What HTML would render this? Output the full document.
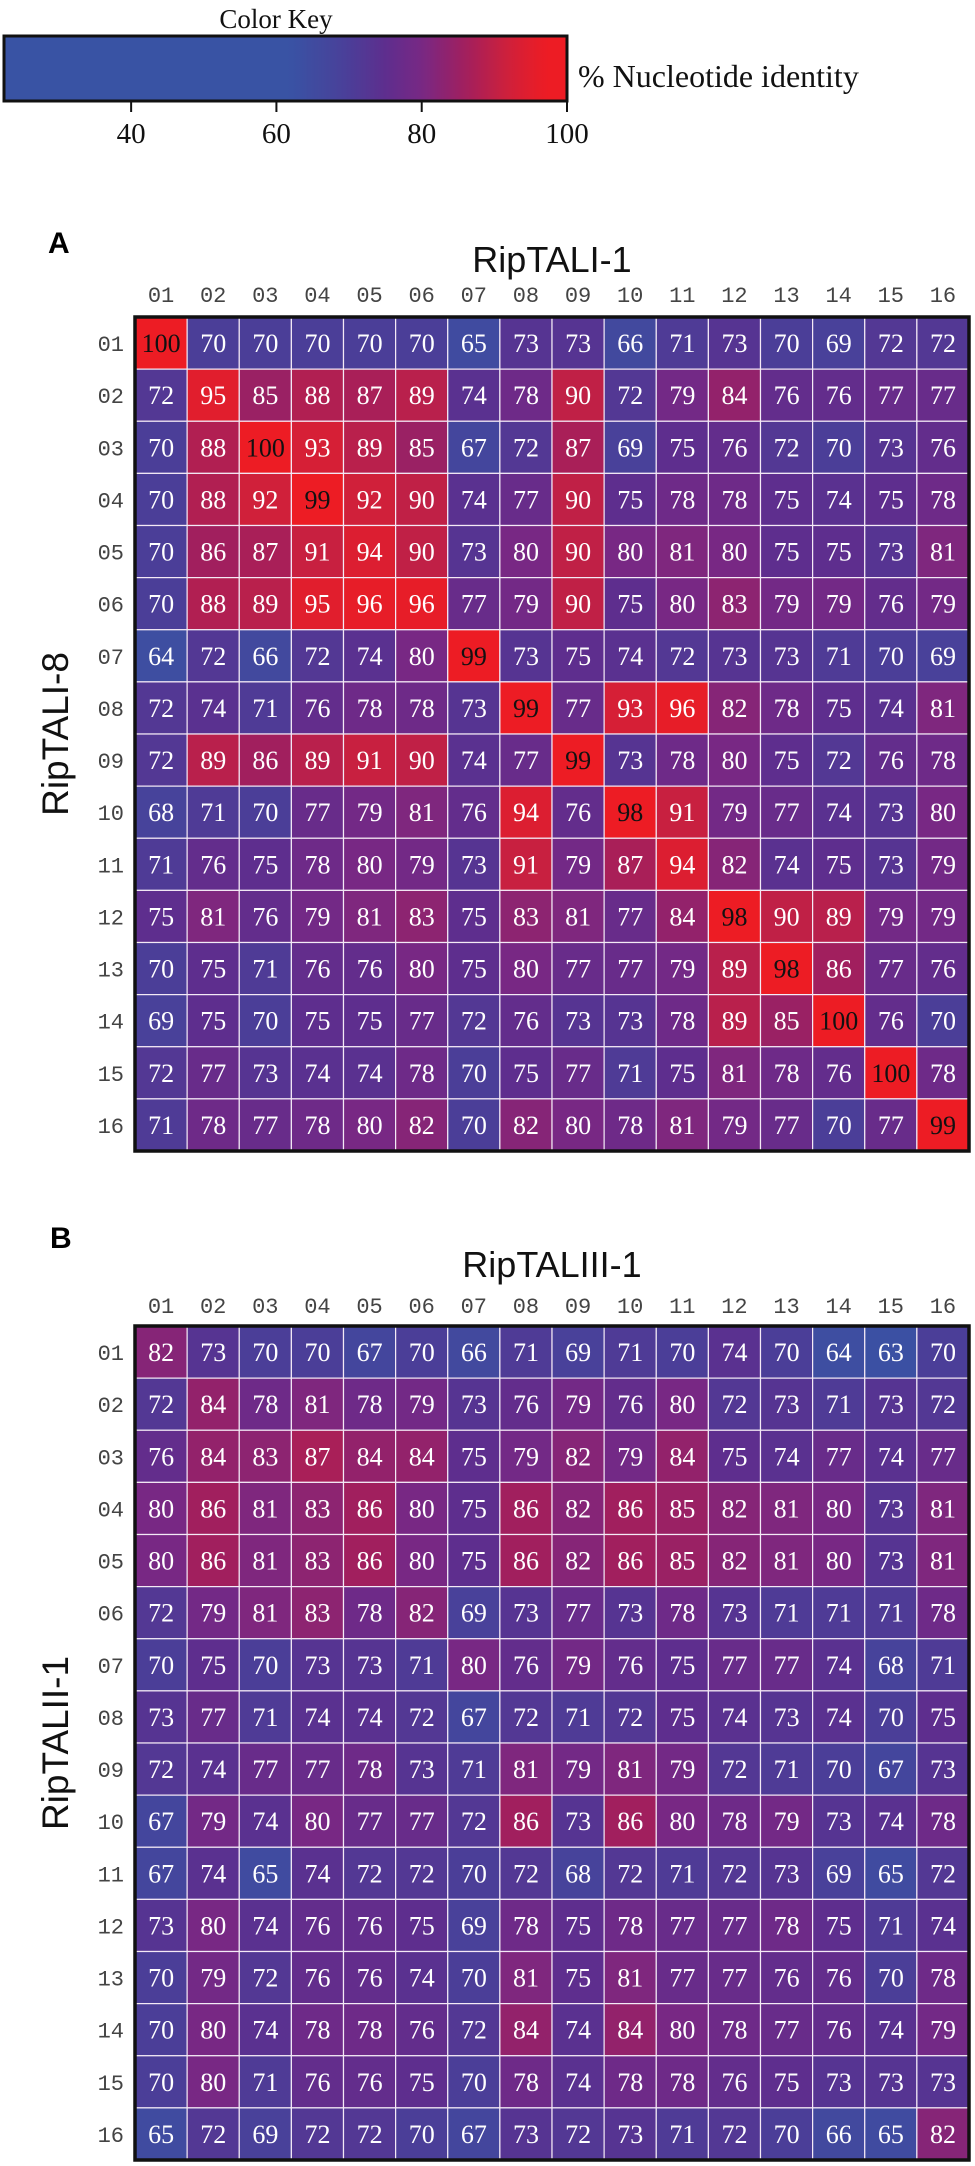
<!DOCTYPE html>
<html><head><meta charset="utf-8">
<style>
html,body{margin:0;padding:0;background:#fff;}
svg{display:block;}
.serif{font-family:"Liberation Serif",serif;}
.sans{font-family:"Liberation Sans",sans-serif;}
.mono{font-family:"Liberation Mono",monospace;}
</style></head>
<body>
<svg id="chart" width="975" height="2166" viewBox="0 0 975 2166" xmlns="http://www.w3.org/2000/svg">
<defs><linearGradient id="keygrad" x1="0" x2="1" y1="0" y2="0"></linearGradient></defs>
<g id="key"></g>
<g id="panelA"></g>
<g id="panelB"></g>
</svg>
<script>
const labels = ["01","02","03","04","05","06","07","08","09","10","11","12","13","14","15","16"];
const keyTicks = [40,60,80,100];
const keyMin = 22.5, keyMax = 100;
const matrixA = [
[100,70,70,70,70,70,65,73,73,66,71,73,70,69,72,72],
[72,95,85,88,87,89,74,78,90,72,79,84,76,76,77,77],
[70,88,100,93,89,85,67,72,87,69,75,76,72,70,73,76],
[70,88,92,99,92,90,74,77,90,75,78,78,75,74,75,78],
[70,86,87,91,94,90,73,80,90,80,81,80,75,75,73,81],
[70,88,89,95,96,96,77,79,90,75,80,83,79,79,76,79],
[64,72,66,72,74,80,99,73,75,74,72,73,73,71,70,69],
[72,74,71,76,78,78,73,99,77,93,96,82,78,75,74,81],
[72,89,86,89,91,90,74,77,99,73,78,80,75,72,76,78],
[68,71,70,77,79,81,76,94,76,98,91,79,77,74,73,80],
[71,76,75,78,80,79,73,91,79,87,94,82,74,75,73,79],
[75,81,76,79,81,83,75,83,81,77,84,98,90,89,79,79],
[70,75,71,76,76,80,75,80,77,77,79,89,98,86,77,76],
[69,75,70,75,75,77,72,76,73,73,78,89,85,100,76,70],
[72,77,73,74,74,78,70,75,77,71,75,81,78,76,100,78],
[71,78,77,78,80,82,70,82,80,78,81,79,77,70,77,99]
];
const matrixB = [
[82,73,70,70,67,70,66,71,69,71,70,74,70,64,63,70],
[72,84,78,81,78,79,73,76,79,76,80,72,73,71,73,72],
[76,84,83,87,84,84,75,79,82,79,84,75,74,77,74,77],
[80,86,81,83,86,80,75,86,82,86,85,82,81,80,73,81],
[80,86,81,83,86,80,75,86,82,86,85,82,81,80,73,81],
[72,79,81,83,78,82,69,73,77,73,78,73,71,71,71,78],
[70,75,70,73,73,71,80,76,79,76,75,77,77,74,68,71],
[73,77,71,74,74,72,67,72,71,72,75,74,73,74,70,75],
[72,74,77,77,78,73,71,81,79,81,79,72,71,70,67,73],
[67,79,74,80,77,77,72,86,73,86,80,78,79,73,74,78],
[67,74,65,74,72,72,70,72,68,72,71,72,73,69,65,72],
[73,80,74,76,76,75,69,78,75,78,77,77,78,75,71,74],
[70,79,72,76,76,74,70,81,75,81,77,77,76,76,70,78],
[70,80,74,78,78,76,72,84,74,84,80,78,77,76,74,79],
[70,80,71,76,76,75,70,78,74,78,78,76,75,73,73,73],
[65,72,69,72,72,70,67,73,72,73,71,72,70,66,65,82]
];

const NS = "http://www.w3.org/2000/svg";
const stops = [[0,[57,83,164]],[62,[57,83,164]],[70,[75,62,152]],[75,[94,46,142]],[80,[120,40,132]],[86,[161,31,94]],[92,[208,32,58]],[97,[237,28,36]],[100,[237,28,36]]];
function color(v){
  for(let i=1;i<stops.length;i++){
    if(v<=stops[i][0]){
      const a=stops[i-1],b=stops[i];const t=(v-a[0])/(b[0]-a[0]||1);
      const c=a[1].map((x,k)=>Math.round(x+(b[1][k]-x)*t));
      return `rgb(${c[0]},${c[1]},${c[2]})`;
    }
  }
  return "rgb(237,28,36)";
}
function mk(tag,attrs,parent,text){
  const e=document.createElementNS(NS,tag);
  for(const k in attrs)e.setAttribute(k,attrs[k]);
  if(text!==undefined)e.textContent=text;
  parent.appendChild(e);return e;
}

const key=document.getElementById("key");
const kx0=4,kx1=567,ky0=36,ky1=101;
const keyX=v=>kx0+(v-keyMin)/(keyMax-keyMin)*(kx1-kx0);
const grad=document.getElementById("keygrad");
for(let v=keyMin;v<=100.01;v+=1.5){
  mk("stop",{offset:((v-keyMin)/(keyMax-keyMin)),"stop-color":color(v)},grad);
}
const kr=mk("rect",{x:kx0,y:ky0,width:kx1-kx0,height:ky1-ky0,fill:"url(#keygrad)",stroke:"#111","stroke-width":3},key);


const kt=mk("text",{x:276,y:28,"text-anchor":"middle","font-size":27,class:"serif",fill:"#111"},key,"Color Key");


const kl=mk("text",{x:578,y:87,"font-size":32,class:"serif",fill:"#111"},key,"% Nucleotide identity");


keyTicks.forEach(t=>{
  const x=keyX(t);
  const tl=mk("line",{x1:x,x2:x,y1:ky1,y2:ky1+11,stroke:"#111","stroke-width":2},key);
  
  
  const tx=mk("text",{x:x,y:143,"text-anchor":"middle","font-size":29,class:"serif",fill:"#111"},key,String(t));
  
  
});

function panel(g,data,o){
  const gx=135,gw=834,cw=gw/16;
  const gy=o.gridTop;
  const letter=mk("text",{x:o.letterX,y:o.letterY,"font-size":30,"font-weight":"bold",class:"sans",fill:"#000"},g,o.letter);
  
  
  const tt=mk("text",{x:gx+gw/2,y:o.titleY,"text-anchor":"middle","font-size":36,class:"sans",fill:"#111"},g,o.colTitle);
  
  
  const cy=gy+gw/2;
  const yt=mk("text",{x:0,y:0,transform:`translate(68,${cy}) rotate(-90)`,"text-anchor":"middle","font-size":37,class:"sans",fill:"#111"},g,o.rowTitle);
  
  
  labels.forEach((l,i)=>{
    const cl=mk("text",{x:gx+cw*i+cw/2,y:o.colLabelY,"text-anchor":"middle","font-size":22,class:"mono",fill:"#444"},g,l);
    
    
    const rl=mk("text",{x:124,y:gy+cw*i+cw/2+8,"text-anchor":"end","font-size":22,class:"mono",fill:"#444"},g,l);
    
    
  });
  data.forEach((row,r)=>{
    row.forEach((v,c)=>{
      const x=gx+cw*c,y=gy+cw*r;
      const cell=mk("rect",{x:x,y:y,width:cw,height:cw,fill:color(v),stroke:"#f4eaf6","stroke-width":1.2},g);
      
      
      const tx=mk("text",{x:x+cw/2,y:y+cw/2+9,"text-anchor":"middle","font-size":26,class:"serif",fill:v>=97?"#111":"#fff"},g,String(v));
      
      
    });
  });
  const br=mk("rect",{x:gx,y:gy,width:gw,height:gw,fill:"none",stroke:"#111","stroke-width":3.5},g);
  
  
}
panel(document.getElementById("panelA"),matrixA,{gridTop:317,letter:"A",letterX:48,letterY:253,titleY:272,colLabelY:302,colTitle:"RipTALI-1",rowTitle:"RipTALI-8"});
panel(document.getElementById("panelB"),matrixB,{gridTop:1326,letter:"B",letterX:50,letterY:1248,titleY:1277,colLabelY:1313,colTitle:"RipTALIII-1",rowTitle:"RipTALII-1"});
</script>
</body></html>
